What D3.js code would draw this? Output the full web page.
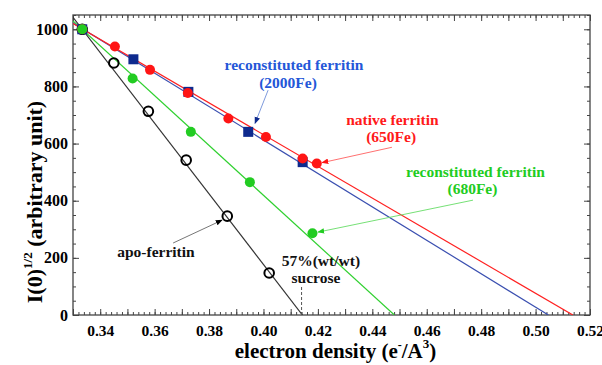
<!DOCTYPE html>
<html>
<head>
<meta charset="utf-8">
<script src="https://cdn.jsdelivr.net/npm/d3@7"></script>
<style>
    body { margin: 0; background: #fff; }
    svg, svg text { font-family: "Liberation Serif", "Times New Roman", Times, "DejaVu Serif", serif !important; font-weight: bold; }
</style>
</head>
<body>
<div id="chart"></div>
<script>
// apo-ferritin (open black circles)
const apoX = [0.3334, 0.3450, 0.3577, 0.3716, 0.3867, 0.4021];
const apoY = [1000, 882, 713, 542, 346, 147];

// native ferritin 650Fe (red circles)
const nativeX = [0.3334, 0.3454, 0.3583, 0.3722, 0.3871, 0.4009, 0.4144, 0.4196];
const nativeY = [1000, 940, 858, 777, 688, 623, 548, 530];

// reconstituted ferritin 2000Fe (blue squares)
const recon2000X = [0.3334, 0.3522, 0.3724, 0.3944, 0.4144];
const recon2000Y = [1000, 895, 781, 641, 535];

// reconstituted ferritin 680Fe (green circles)
const recon680X = [0.3334, 0.3519, 0.3733, 0.3950, 0.4180];
const recon680Y = [1000, 828, 641, 465, 286];

// straight fits: value at x = 0.33 and where they cross zero
const fitNames = ["recon680", "apo", "recon2000", "native"];
const fitStartY = [1029, 1042, 1022, 1020];
const fitZeroX = [0.4481, 0.4143, 0.5047, 0.5137];

const xTicks = [0.34, 0.36, 0.38, 0.40, 0.42, 0.44, 0.46, 0.48, 0.50, 0.52];
const xTickLabels = ["0.34", "0.36", "0.38", "0.40", "0.42", "0.44", "0.46", "0.48", "0.50", "0.52"];
const yTicks = [0, 200, 400, 600, 800, 1000];
const yTickLabels = ["0", "200", "400", "600", "800", "1000"];

// annotation texts (data coords of the text centre / baseline)
const noteText = ["reconstituted ferritin", "(2000Fe)", "native ferritin", "(650Fe)",
    "reconstituted ferritin", "(680Fe)", "apo-ferritin", "57%(wt/wt)", "sucrose"];
const noteX = [0.4112, 0.4090, 0.4474, 0.4469, 0.4779, 0.4768, 0.3605, 0.4211, 0.4193];
const noteY = [857, 794, 664, 605, 482, 423, 203, 171, 112];
const noteSeries = ["recon2000", "recon2000", "native", "native", "recon680", "recon680", "apo", "apo", "apo"];

// annotation arrows
const arrowSeries = ["recon2000", "native", "recon680", "apo"];
const arrowFromX = [0.4017, 0.4472, 0.4770, 0.3668];
const arrowFromY = [787, 587, 402, 252];
const arrowToX = [0.3969, 0.4215, 0.4200, 0.3848];
const arrowToY = [671, 533, 290, 332];

// sucrose marker
const sucroseX = 0.4140;
const sucroseTop = 98;

const FONT = '"Liberation Serif", "Times New Roman", Times, "DejaVu Serif", serif';

const colors = {
    apo: {line: "#333", mark: "#000", text: "#111", arrow: "#666"},
    native: {line: "#ff2020", mark: "#ff1515", text: "#ff1a1a", arrow: "#ff6060"},
    recon2000: {line: "#3a4fb0", mark: "#0e2a8e", text: "#2457d8", arrow: "#6f8fd8"},
    recon680: {line: "#2fd02f", mark: "#22cc22", text: "#22cc22", arrow: "#66dd66"}
};

let margin = {top: 15, right: 12, bottom: 50, left: 73},
    width = 602 - margin.left - margin.right,
    height = 365 - margin.top - margin.bottom;

let xScale = d3.scaleLinear().domain([0.33, 0.52]).range([0, width]),
    yScale = d3.scaleLinear().domain([0, 1050]).range([height, 0]);

let svgRoot = d3.select("#chart")
    .append("svg")
    .attr("width", 602)
    .attr("height", 365)
    .attr("font-family", FONT);

let defs = svgRoot.append("defs");
defs.append("clipPath").attr("id", "plotClip")
    .append("rect").attr("width", width).attr("height", height);

Object.keys(colors).forEach(function (k) {
    defs.append("marker")
        .attr("id", "arrow-" + k)
        .attr("viewBox", "0 0 10 10")
        .attr("refX", 9).attr("refY", 5)
        .attr("markerWidth", 7).attr("markerHeight", 7)
        .attr("markerUnits", "userSpaceOnUse")
        .attr("orient", "auto")
        .append("path")
        .attr("d", "M0,1 L10,5 L0,9 Z")
        .attr("fill", colors[k].mark);
});

let svg = svgRoot.append("g")
    .attr("transform", "translate(" + margin.left + "," + margin.top + ")");

// ---- axes with inward ticks on all four sides
const xMinor = d3.range(0, 96).map(i => 0.33 + i * 0.002);
const xMid = d3.range(0, 20).map(i => 0.33 + i * 0.01);
const yMinor = d3.range(0, 22).map(i => i * 50);

function drawTicks(gen, values, size, transform) {
    svg.append("g")
        .attr("transform", transform || null)
        .call(gen.tickValues(values).tickSize(-size).tickFormat(""))
        .call(g => g.select(".domain").remove())
        .selectAll("line").attr("stroke", "#444").attr("stroke-width", 1);
}

drawTicks(d3.axisBottom(xScale), xMinor, 3, "translate(0," + height + ")");
drawTicks(d3.axisBottom(xScale), xMid, 6, "translate(0," + height + ")");
drawTicks(d3.axisTop(xScale), xMinor, 3);
drawTicks(d3.axisTop(xScale), xMid, 6);
drawTicks(d3.axisLeft(yScale), yMinor, 3);
drawTicks(d3.axisLeft(yScale), yTicks, 6);
drawTicks(d3.axisRight(yScale), yMinor, 3, "translate(" + width + ",0)");
drawTicks(d3.axisRight(yScale), yTicks, 6, "translate(" + width + ",0)");

svg.append("g")
    .attr("transform", "translate(0," + height + ")")
    .call(d3.axisBottom(xScale).tickValues(xTicks).tickSize(0)
        .tickFormat((d, i) => xTickLabels[i]))
    .call(g => g.select(".domain").remove())
    .attr("font-family", FONT)
    .selectAll("text")
    .attr("y", 21).attr("dy", 0)
    .style("font-size", "15.5px")
    .attr("fill", "#000");

svg.append("g")
    .call(d3.axisLeft(yScale).tickValues(yTicks).tickSize(0).tickPadding(5)
        .tickFormat((d, i) => yTickLabels[i]))
    .call(g => g.select(".domain").remove())
    .attr("font-family", FONT)
    .selectAll("text")
    .style("font-size", "16px")
    .attr("fill", "#000");

svg.append("rect")
    .attr("width", width).attr("height", height)
    .attr("fill", "none")
    .attr("stroke", "#444")
    .attr("stroke-width", 1.3);

// ---- fit lines
let plot = svg.append("g").attr("clip-path", "url(#plotClip)");

fitNames.forEach(function (name, i) {
    let pts = [[0.33, fitStartY[i]], [fitZeroX[i], 0]];
    plot.append("path")
        .datum(pts)
        .attr("fill", "none")
        .attr("stroke", colors[name].line)
        .attr("stroke-width", 1.2)
        .attr("d", d3.line()
            .x(function (d) { return xScale(d[0]) })
            .y(function (d) { return yScale(d[1]) })
        );
});

// sucrose dashed marker
svg.append("line")
    .attr("x1", xScale(sucroseX)).attr("x2", xScale(sucroseX))
    .attr("y1", yScale(sucroseTop)).attr("y2", yScale(0))
    .attr("stroke", "#555")
    .attr("stroke-width", 1)
    .attr("stroke-dasharray", "3,2");

// ---- points
function zip(xs, ys) {
    return xs.map((v, i) => ({x: v, y: ys[i]}));
}

svg.selectAll(".apo")
    .data(zip(apoX, apoY))
    .enter().append("circle")
    .attr("class", "apo")
    .attr("cx", d => xScale(d.x))
    .attr("cy", d => yScale(d.y))
    .attr("r", 4.8)
    .attr("fill", "none")
    .attr("stroke", colors.apo.mark)
    .attr("stroke-width", 2);

svg.selectAll(".recon2000")
    .data(zip(recon2000X, recon2000Y))
    .enter().append("rect")
    .attr("class", "recon2000")
    .attr("x", d => xScale(d.x) - 5)
    .attr("y", d => yScale(d.y) - 5)
    .attr("width", 10)
    .attr("height", 10)
    .attr("fill", colors.recon2000.mark);

svg.selectAll(".native")
    .data(zip(nativeX, nativeY))
    .enter().append("circle")
    .attr("class", "native")
    .attr("cx", d => xScale(d.x))
    .attr("cy", d => yScale(d.y))
    .attr("r", 5)
    .attr("fill", colors.native.mark);

svg.selectAll(".recon680")
    .data(zip(recon680X, recon680Y))
    .enter().append("circle")
    .attr("class", "recon680")
    .attr("cx", d => xScale(d.x))
    .attr("cy", d => yScale(d.y))
    .attr("r", 5)
    .attr("fill", colors.recon680.mark);

// ---- annotations
arrowSeries.forEach(function (name, i) {
    svg.append("line")
        .attr("x1", xScale(arrowFromX[i])).attr("y1", yScale(arrowFromY[i]))
        .attr("x2", xScale(arrowToX[i])).attr("y2", yScale(arrowToY[i]))
        .attr("stroke", colors[name].arrow)
        .attr("stroke-width", 0.9)
        .attr("marker-end", "url(#arrow-" + name + ")");
});

noteText.forEach(function (t, i) {
    svg.append("text")
        .attr("x", xScale(noteX[i]))
        .attr("y", yScale(noteY[i]))
        .attr("text-anchor", "middle")
        .style("font-size", "15.5px")
        .attr("fill", colors[noteSeries[i]].text)
        .text(t);
});

// ---- axis titles
let yTitle = svgRoot.append("text")
    .attr("transform", "translate(42," + (margin.top + 187) + ") rotate(-90)")
    .attr("text-anchor", "middle")
    .style("font-size", "22px")
    .attr("fill", "#000");
yTitle.append("tspan").text("I(0)");
yTitle.append("tspan").attr("dy", -10).style("font-size", "13px").text("1/2");
yTitle.append("tspan").attr("dy", 10).text(" (arbitrary unit)");

let xTitle = svgRoot.append("text")
    .attr("x", margin.left + width / 2 + 4)
    .attr("y", 358)
    .attr("text-anchor", "middle")
    .style("font-size", "21px")
    .attr("fill", "#000");
xTitle.append("tspan").text("electron density (e");
xTitle.append("tspan").attr("dy", -9).style("font-size", "12px").text("-");
xTitle.append("tspan").attr("dy", 9).text("/A");
xTitle.append("tspan").attr("dy", -10).style("font-size", "13px").text("3");
xTitle.append("tspan").attr("dy", 10).text(")");
</script>
</body>
</html>
